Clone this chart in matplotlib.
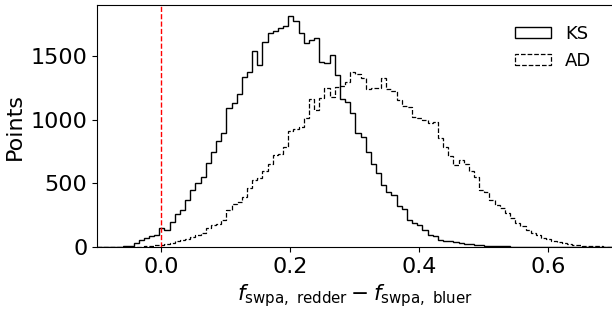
import numpy as np
import matplotlib
matplotlib.use('Agg')
import matplotlib.pyplot as plt

# histogram counts, bin width 0.008
bin_start = -0.1314
bin_width = 0.008

ks_counts = [0, 0, 0, 0, 0, 1, 1, 2, 3, 5, 10, 31, 52, 70, 83, 96,
             146, 136, 193, 259, 293, 371, 449, 501, 553, 658, 749, 835, 898, 1089,
             1128, 1199, 1337, 1376, 1538, 1429, 1611, 1677, 1697, 1716, 1734, 1813,
             1776, 1677, 1603, 1625, 1638, 1455, 1447, 1507, 1350, 1160, 1141, 1050,
             893, 862, 749, 653, 580, 488, 428, 410, 324, 298, 214, 188, 175, 136,
             96, 83, 57, 50, 45, 38, 33, 27, 22, 18, 14, 11, 8, 6, 5, 4, 3, 2, 2,
             1, 1, 0, 0, 0, 0, 0, 0, 0, 0, 0, 0, 0, 0, 0, 0, 0]

ad_counts = [0, 0, 0, 0, 0, 0, 0, 0, 0, 0, 1, 2, 3, 6, 10, 14,
             18, 26, 35, 45, 55, 65, 78, 96, 110, 149, 169, 180, 214, 292,
             339, 357, 392, 462, 527, 541, 600, 653, 723, 731, 788, 914,
             925, 945, 1011, 1160, 1076, 1172, 1246, 1180, 1254, 1264, 1298, 1376,
             1358, 1324, 1238, 1246, 1246, 1324, 1238, 1225, 1154, 1107, 1097, 1024,
             1011, 998, 977, 978, 854, 788, 716, 645, 684, 653, 593, 553, 449, 428,
             371, 331, 306, 266, 227, 188, 167, 136, 110, 96, 70, 62, 44, 36, 31,
             23, 18, 14, 10, 8, 6, 4, 3, 2]


def step_hist(ax, counts, **kw):
    edges = bin_start + bin_width * np.arange(len(counts) + 1)
    centers = 0.5 * (edges[:-1] + edges[1:])
    ax.hist(centers, bins=edges, weights=counts, histtype='step', **kw)


fig = plt.figure(figsize=(6.12, 3.11), dpi=100)
ax = fig.add_axes([0.1585, 0.2058, 0.843, 0.778])

step_hist(ax, ks_counts, color='k', linewidth=1.0, label='KS')
step_hist(ax, ad_counts, color='k', linestyle='--', linewidth=0.9, label='AD')
ax.axvline(0.0, color='red', linestyle='--', linewidth=1.0, zorder=3)

ax.set_xlim(-0.1, 0.7)
ax.set_ylim(0, 1900)
ax.set_xticks([0.0, 0.2, 0.4, 0.6])
ax.set_yticks([0, 500, 1000, 1500])
ax.tick_params(labelsize=16)
ax.set_xlabel(r'$f_{\mathrm{swpa,\ redder}} - f_{\mathrm{swpa,\ bluer}}$', fontsize=15.5)
ax.set_ylabel('Points', fontsize=16)
ax.legend(loc='upper right', bbox_to_anchor=(0.99, 0.985), frameon=False,
          fontsize=13, handleheight=0.5)

fig.savefig('out.png', dpi=100)
